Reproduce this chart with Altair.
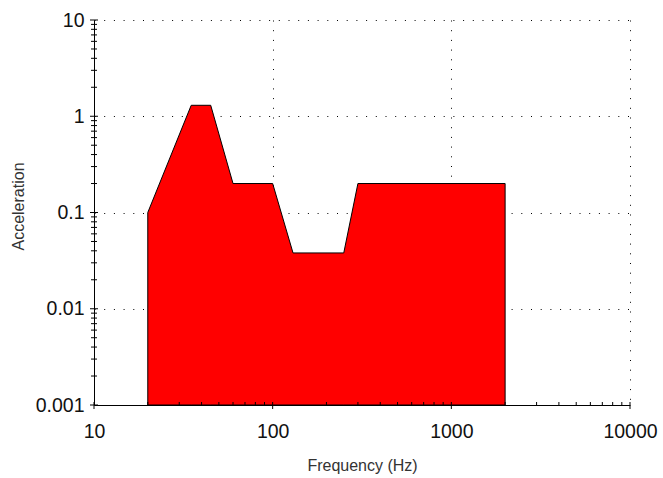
import altair as alt
import pandas as pd

# Spectrum profile (frequency in Hz, acceleration)
freq = [20, 35, 45, 60, 100, 130, 250, 300, 2000]
accel = [0.1, 1.3, 1.3, 0.2, 0.2, 0.038, 0.038, 0.2, 0.2]

x_major = [10, 100, 1000, 10000]
x_minor = [20, 30, 40, 50, 60, 70, 80, 90,
           200, 300, 400, 500, 600, 700, 800, 900,
           2000, 3000, 4000, 5000, 6000, 7000, 8000, 9000]
y_major = [0.001, 0.01, 0.1, 1, 10]
y_minor = [0.002, 0.003, 0.004, 0.005, 0.006, 0.007, 0.008, 0.009,
           0.02, 0.03, 0.04, 0.05, 0.06, 0.07, 0.08, 0.09,
           0.2, 0.3, 0.4, 0.5, 0.6, 0.7, 0.8, 0.9,
           2, 3, 4, 5, 6, 7, 8, 9]

W, H = 536, 385
FONT = "Liberation Sans"

xscale = alt.Scale(type="log", domain=[10, 10000], nice=False)
yscale = alt.Scale(type="log", domain=[0.001, 10], nice=False)

xaxis = alt.Axis(values=x_major, format="~g", title="Frequency (Hz)",
                 grid=True, gridDash=[1, 8.7], gridColor="#000000",
                 gridOpacity=1, ticks=False, tickSize=0,
                 labelPadding=17, labelFontSize=19.5, labelFont=FONT,
                 labelColor="#111111", labelFlush=False,
                 domainColor="#000000", domainWidth=1,
                 titleFont=FONT, titleFontSize=16, titleFontWeight="normal",
                 titleColor="#333333", titleY=60, titleBaseline="middle")
yaxis = alt.Axis(values=y_major, format="~g", title="Acceleration",
                 grid=True, gridDash=[1, 8.7], gridColor="#000000",
                 gridOpacity=1, ticks=False, tickSize=0,
                 labelPadding=10, labelFontSize=19.5, labelFont=FONT,
                 labelColor="#111111", labelFlush=False,
                 domainColor="#000000", domainWidth=1,
                 titleFont=FONT, titleFontSize=16, titleFontWeight="normal",
                 titleColor="#333333", titleX=-76, titleY=186,
                 titleAngle=270, titleAlign="center", titleBaseline="middle")

df = pd.DataFrame({"freq": freq, "accel": accel})

area = alt.Chart(df).mark_area(
    color="#FF0000", stroke="#000000", strokeWidth=1, fillOpacity=1
).encode(
    x=alt.X("freq:Q", scale=xscale, axis=xaxis),
    y=alt.Y("accel:Q", scale=yscale, axis=yaxis),
    y2=alt.datum(0.001),
)

xmaj = pd.DataFrame({"freq": x_major})
xmin = pd.DataFrame({"freq": x_minor})
ymaj = pd.DataFrame({"accel": y_major})
ymin = pd.DataFrame({"accel": y_minor})

xt_major = alt.Chart(xmaj).mark_rule(color="#000000", strokeWidth=1).encode(
    x=alt.X("freq:Q", scale=xscale, axis=xaxis),
    y=alt.value(H - 3), y2=alt.value(H + 4))
xt_minor = alt.Chart(xmin).mark_rule(color="#000000", strokeWidth=1).encode(
    x=alt.X("freq:Q", scale=xscale, axis=xaxis),
    y=alt.value(H - 3), y2=alt.value(H + 1))
yt_major = alt.Chart(ymaj).mark_rule(color="#000000", strokeWidth=1).encode(
    y=alt.Y("accel:Q", scale=yscale, axis=yaxis),
    x=alt.value(-4), x2=alt.value(4))
yt_minor = alt.Chart(ymin).mark_rule(color="#000000", strokeWidth=1).encode(
    y=alt.Y("accel:Q", scale=yscale, axis=yaxis),
    x=alt.value(-3), x2=alt.value(3))

chart = alt.layer(area, xt_major, xt_minor, yt_major, yt_minor).properties(
    width=W, height=H,
    autosize=alt.AutoSizeParams(type="none"),
    padding={"left": 94, "top": 20, "right": 33, "bottom": 73},
    background="#FFFFFF",
).configure_view(strokeWidth=0)

chart.save("out.html", embed_options={"renderer": "svg", "actions": False})
